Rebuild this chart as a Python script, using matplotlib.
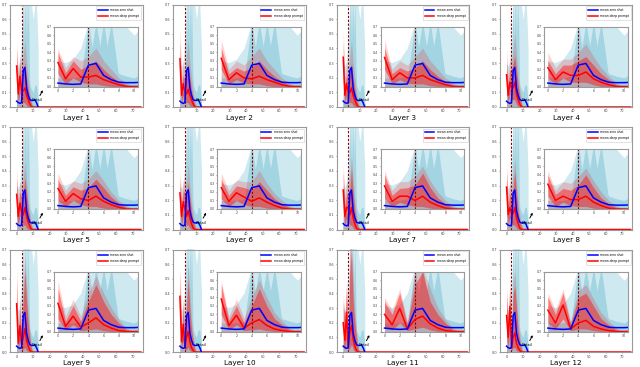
import numpy as np
import matplotlib
matplotlib.use("Agg")
import matplotlib.pyplot as plt

layer_names = [f"Layer {i}" for i in range(1, 13)]

# zero-shot (same for every layer), positions 0..13
zs_mean = [0.04, 0.03, 0.025, 0.03, 0.25, 0.27, 0.13, 0.08, 0.05, 0.045, 0.045, 0.05, 0.03, 0.0]
zs_outer = [0.3, 0.28, 0.32, 0.45, 0.75, 0.75, 0.75, 0.75, 0.7, 0.7, 0.6, 0.7, 0.7, 0.4]
zs_base = [0.1, 0.1, 0.1, 0.12, 0.35, 0.4, 0.35, 0.3, 0.15, 0.12, 0.1, 0.15, 0.15, 0.05]
zs_spike4 = [0.05, 0.05, 0.05, 0.08, 0.75, 0.15, 0.1, 0.08, 0.06, 0.05, 0.05, 0.05, 0.05, 0.02]
zs_spike5 = [0.05, 0.05, 0.05, 0.06, 0.2, 0.75, 0.2, 0.1, 0.06, 0.05, 0.05, 0.05, 0.05, 0.02]
zs_spike6 = [0.05, 0.05, 0.05, 0.05, 0.15, 0.2, 0.75, 0.15, 0.08, 0.05, 0.05, 0.05, 0.05, 0.02]
zs_spike7 = [0.05, 0.05, 0.05, 0.05, 0.1, 0.15, 0.25, 0.75, 0.1, 0.06, 0.05, 0.05, 0.05, 0.02]

# deep prompt per layer, positions 0..10 (zero afterwards up to 75)
dp_mean = [
    [0.28, 0.09, 0.21, 0.11, 0.11, 0.13, 0.08, 0.05, 0.02, 0.0, 0.0],
    [0.33, 0.08, 0.16, 0.10, 0.09, 0.12, 0.08, 0.05, 0.02, 0.0, 0.0],
    [0.34, 0.08, 0.16, 0.10, 0.10, 0.13, 0.08, 0.05, 0.02, 0.0, 0.0],
    [0.22, 0.08, 0.17, 0.13, 0.13, 0.17, 0.09, 0.05, 0.02, 0.0, 0.0],
    [0.24, 0.09, 0.18, 0.12, 0.10, 0.15, 0.09, 0.05, 0.02, 0.0, 0.0],
    [0.25, 0.09, 0.19, 0.14, 0.09, 0.13, 0.08, 0.04, 0.01, 0.0, 0.0],
    [0.27, 0.09, 0.15, 0.15, 0.10, 0.15, 0.08, 0.04, 0.01, 0.0, 0.0],
    [0.29, 0.10, 0.15, 0.11, 0.11, 0.15, 0.08, 0.04, 0.01, 0.0, 0.0],
    [0.33, 0.06, 0.18, 0.05, 0.10, 0.16, 0.08, 0.04, 0.01, 0.0, 0.0],
    [0.38, 0.07, 0.19, 0.04, 0.10, 0.14, 0.07, 0.03, 0.01, 0.0, 0.0],
    [0.20, 0.08, 0.27, 0.03, 0.14, 0.18, 0.09, 0.04, 0.01, 0.0, 0.0],
    [0.25, 0.10, 0.31, 0.03, 0.10, 0.13, 0.06, 0.03, 0.01, 0.0, 0.0],
]
dp_lo = [
    [0.15, 0.03, 0.10, 0.05, 0.03, 0.03, 0.01, 0.0, 0.0, 0.0, 0.0],
    [0.20, 0.03, 0.08, 0.04, 0.03, 0.03, 0.01, 0.0, 0.0, 0.0, 0.0],
    [0.20, 0.03, 0.08, 0.04, 0.03, 0.03, 0.01, 0.0, 0.0, 0.0, 0.0],
    [0.10, 0.03, 0.10, 0.05, 0.05, 0.05, 0.02, 0.0, 0.0, 0.0, 0.0],
    [0.10, 0.03, 0.10, 0.05, 0.03, 0.03, 0.01, 0.0, 0.0, 0.0, 0.0],
    [0.12, 0.03, 0.10, 0.05, 0.03, 0.03, 0.01, 0.0, 0.0, 0.0, 0.0],
    [0.12, 0.03, 0.08, 0.05, 0.03, 0.03, 0.01, 0.0, 0.0, 0.0, 0.0],
    [0.15, 0.03, 0.08, 0.04, 0.03, 0.03, 0.01, 0.0, 0.0, 0.0, 0.0],
    [0.15, 0.02, 0.08, 0.01, 0.02, 0.03, 0.01, 0.0, 0.0, 0.0, 0.0],
    [0.20, 0.02, 0.08, 0.01, 0.02, 0.03, 0.01, 0.0, 0.0, 0.0, 0.0],
    [0.05, 0.02, 0.10, 0.01, 0.03, 0.05, 0.02, 0.0, 0.0, 0.0, 0.0],
    [0.10, 0.03, 0.15, 0.01, 0.03, 0.03, 0.01, 0.0, 0.0, 0.0, 0.0],
]
dp_hi = [
    [0.40, 0.16, 0.30, 0.20, 0.25, 0.30, 0.20, 0.12, 0.06, 0.02, 0.0],
    [0.45, 0.15, 0.22, 0.18, 0.22, 0.30, 0.20, 0.12, 0.06, 0.02, 0.0],
    [0.45, 0.15, 0.22, 0.18, 0.22, 0.30, 0.20, 0.12, 0.06, 0.02, 0.0],
    [0.30, 0.15, 0.25, 0.25, 0.30, 0.35, 0.25, 0.15, 0.08, 0.02, 0.0],
    [0.35, 0.16, 0.26, 0.22, 0.25, 0.35, 0.25, 0.14, 0.07, 0.02, 0.0],
    [0.35, 0.16, 0.27, 0.25, 0.22, 0.32, 0.22, 0.12, 0.06, 0.02, 0.0],
    [0.40, 0.16, 0.24, 0.25, 0.28, 0.42, 0.25, 0.13, 0.06, 0.02, 0.0],
    [0.40, 0.17, 0.24, 0.22, 0.28, 0.40, 0.25, 0.13, 0.06, 0.02, 0.0],
    [0.50, 0.12, 0.30, 0.12, 0.35, 0.55, 0.35, 0.20, 0.10, 0.02, 0.0],
    [0.55, 0.13, 0.30, 0.10, 0.30, 0.50, 0.30, 0.15, 0.08, 0.02, 0.0],
    [0.35, 0.20, 0.45, 0.08, 0.55, 0.70, 0.35, 0.20, 0.10, 0.02, 0.0],
    [0.40, 0.20, 0.45, 0.08, 0.40, 0.45, 0.30, 0.15, 0.08, 0.02, 0.0],
]
dp_max = [
    [0.45, 0.22, 0.35, 0.30, 0.35, 0.45, 0.30, 0.20, 0.10, 0.04, 0.0],
    [0.55, 0.20, 0.30, 0.25, 0.35, 0.45, 0.30, 0.20, 0.10, 0.04, 0.0],
    [0.55, 0.20, 0.30, 0.25, 0.35, 0.45, 0.30, 0.20, 0.10, 0.04, 0.0],
    [0.40, 0.22, 0.32, 0.32, 0.40, 0.50, 0.35, 0.22, 0.12, 0.04, 0.0],
    [0.42, 0.22, 0.33, 0.30, 0.35, 0.45, 0.33, 0.20, 0.10, 0.04, 0.0],
    [0.42, 0.22, 0.34, 0.32, 0.32, 0.45, 0.30, 0.18, 0.10, 0.04, 0.0],
    [0.45, 0.22, 0.32, 0.32, 0.38, 0.50, 0.33, 0.20, 0.10, 0.04, 0.0],
    [0.45, 0.22, 0.32, 0.30, 0.38, 0.48, 0.33, 0.20, 0.10, 0.04, 0.0],
    [0.60, 0.18, 0.38, 0.18, 0.45, 0.65, 0.45, 0.28, 0.14, 0.04, 0.0],
    [0.60, 0.18, 0.38, 0.16, 0.40, 0.60, 0.40, 0.22, 0.12, 0.04, 0.0],
    [0.40, 0.25, 0.50, 0.12, 0.72, 0.75, 0.50, 0.28, 0.14, 0.04, 0.0],
    [0.45, 0.25, 0.50, 0.12, 0.48, 0.55, 0.38, 0.22, 0.12, 0.04, 0.0],
]
dp_len = 76
zs_vline_main = 3
vline_inset = 4

x_ticks_main = [0, 10, 20, 30, 40, 50, 60, 70]
y_ticks = [0.0, 0.1, 0.2, 0.3, 0.4, 0.5, 0.6, 0.7]
x_ticks_inset = [0, 2, 4, 6, 8, 10]

LB_OUT = "#cfe9f1"
LB = "#a2d4e1"
SPINE = "#9a9a9a"

fig = plt.figure(figsize=(6.4, 3.67), dpi=100)
W, H = 640.0, 367.0


def draw(ax, k, inset):
    xz = np.arange(len(zs_mean))
    ax.fill_between(xz, 0, zs_outer, color=LB_OUT, lw=0)
    for arr in (zs_base, zs_spike4, zs_spike5, zs_spike6, zs_spike7):
        ax.fill_between(xz, 0, arr, color=LB, lw=0)
    xd = np.arange(dp_len)
    pad = np.zeros(dp_len - len(dp_mean[k]))
    mx = np.concatenate([dp_max[k], pad])
    lo = np.concatenate([dp_lo[k], pad])
    hi = np.concatenate([dp_hi[k], pad])
    mn = np.concatenate([dp_mean[k], pad])
    ax.fill_between(xd, 0, mx, color="red", alpha=0.18, lw=0)
    ax.fill_between(xd, lo, hi, color="red", alpha=0.42, lw=0)
    ax.axvline(vline_inset if inset else zs_vline_main, color="darkred",
               ls=(0, (2, 1.5)), lw=0.8)
    l2, = ax.plot(xd, mn, color="red", lw=1.1, label="mean deep prompt")
    l1, = ax.plot(xz, zs_mean, color="blue", lw=1.1, label="mean zero shot")
    return l1, l2


for k in range(12):
    r, c = divmod(k, 4)
    left = (10 + 163.3 * c) / W
    bottom = 1 - (107 + 122.5 * r) / H
    ax = fig.add_axes([left, bottom, 132.5 / W, 102.5 / H])
    l1, l2 = draw(ax, k, False)
    ax.set_xlim(-4, 76)
    ax.set_ylim(0, 0.7)
    ax.set_xticks(x_ticks_main)
    ax.set_yticks(y_ticks)
    ax.set_yticklabels([f"{v:.1f}" for v in y_ticks])
    ax.tick_params(labelsize=2.5, length=1.0, width=0.4, pad=0.8, colors="#444444")
    for s in ax.spines.values():
        s.set_color(SPINE)
        s.set_linewidth(0.8)
    ax.text(0.5, -0.103, layer_names[k], transform=ax.transAxes,
            ha="center", va="center", fontsize=5.2)
    leg = ax.legend(handles=[l1, l2], loc="upper right", fontsize=2.2,
                    handlelength=3.2, borderpad=0.6, labelspacing=0.6,
                    framealpha=1, edgecolor="#cccccc", fancybox=True)
    leg.get_frame().set_linewidth(0.4)
    ax.annotate("Detail", xy=(15.8, 0.115), xytext=(12.5, 0.045),
                fontsize=2.6, ha="center", va="center",
                arrowprops=dict(arrowstyle="->", lw=0.7, color="black",
                                shrinkA=0, shrinkB=0))

    ins = ax.inset_axes([0.333, 0.2, 0.632, 0.584])
    draw(ins, k, True)
    ins.set_xlim(-0.5, 10.5)
    ins.set_ylim(0, 0.7)
    ins.set_xticks(x_ticks_inset)
    ins.set_yticks(y_ticks)
    ins.set_yticklabels([f"{v:.1f}" for v in y_ticks])
    ins.tick_params(labelsize=2.3, length=1.0, width=0.4, pad=0.8, colors="#444444")
    for s in ins.spines.values():
        s.set_color(SPINE)
        s.set_linewidth(0.8)

fig.savefig("out.png", dpi=100)
